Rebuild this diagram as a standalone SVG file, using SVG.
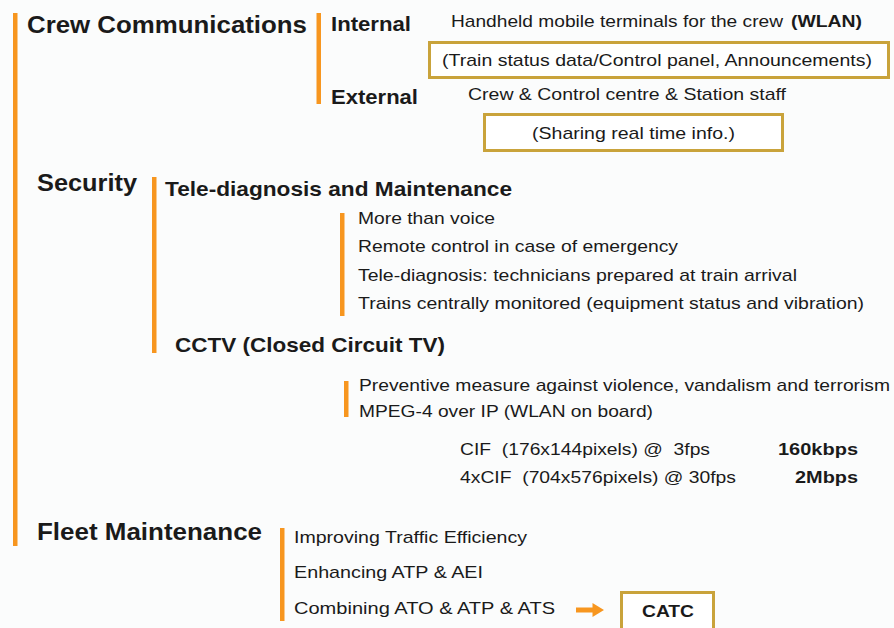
<svg xmlns="http://www.w3.org/2000/svg" width="894" height="628" viewBox="0 0 894 628">
  <style>
    text { font-family: "Liberation Sans", Arial, sans-serif; fill: #1a1a1a; }
    .h1 { font-size: 23px; font-weight: bold; }
    .h2 { font-size: 21px; font-weight: bold; }
    .t  { font-size: 17px; }
    .tb { font-size: 17px; font-weight: bold; }
    .bar { fill: #F7961F; }
    .box { fill: #ffffff; stroke: #C9A33B; stroke-width: 3; }
  </style>
  <rect width="894" height="628" fill="#FBFCFC"/>

  <!-- Crew Communications -->
  <g id="crew">
    <rect class="bar" x="13" y="13" width="4.5" height="533"/>
    <text class="h1" x="27" y="33" textLength="280" lengthAdjust="spacingAndGlyphs">Crew Communications</text>
  </g>
  <g id="crew-internal">
    <rect class="bar" x="316.5" y="13" width="4.5" height="91"/>
    <text class="h2" x="331" y="31" textLength="80" lengthAdjust="spacingAndGlyphs">Internal</text>
    <text class="t" x="451" y="27" textLength="332" lengthAdjust="spacingAndGlyphs">Handheld mobile terminals for the crew</text>
    <text class="tb" x="791" y="27" textLength="71" lengthAdjust="spacingAndGlyphs">(WLAN)</text>
  </g>
  <g id="internal-box">
    <rect class="box" x="429.5" y="42.5" width="459" height="35"/>
    <text class="t" x="442" y="66" textLength="430" lengthAdjust="spacingAndGlyphs">(Train status data/Control panel, Announcements)</text>
  </g>
  <g id="crew-external">
    <text class="h2" x="331" y="104" textLength="87" lengthAdjust="spacingAndGlyphs">External</text>
    <text class="t" x="468" y="100" textLength="318" lengthAdjust="spacingAndGlyphs">Crew &amp; Control centre &amp; Station staff</text>
  </g>
  <g id="external-box">
    <rect class="box" x="484.5" y="114.5" width="298" height="36"/>
    <text class="t" x="532" y="139" textLength="203" lengthAdjust="spacingAndGlyphs">(Sharing real time info.)</text>
  </g>

  <!-- Security -->
  <g id="security">
    <text class="h1" x="37" y="191" textLength="100" lengthAdjust="spacingAndGlyphs">Security</text>
    <rect class="bar" x="152" y="177" width="4.5" height="176"/>
  </g>
  <g id="tele-diagnosis">
    <text class="h2" x="165" y="196" textLength="347" lengthAdjust="spacingAndGlyphs">Tele-diagnosis and Maintenance</text>
    <rect class="bar" x="340" y="213" width="4.5" height="103"/>
    <text class="t" x="358" y="224" textLength="137" lengthAdjust="spacingAndGlyphs">More than voice</text>
    <text class="t" x="358" y="252" textLength="320" lengthAdjust="spacingAndGlyphs">Remote control in case of emergency</text>
    <text class="t" x="358" y="281" textLength="439" lengthAdjust="spacingAndGlyphs">Tele-diagnosis: technicians prepared at train arrival</text>
    <text class="t" x="358" y="309" textLength="506" lengthAdjust="spacingAndGlyphs">Trains centrally monitored (equipment status and vibration)</text>
  </g>
  <g id="cctv">
    <text class="h2" x="175" y="352" textLength="270" lengthAdjust="spacingAndGlyphs">CCTV (Closed Circuit TV)</text>
    <rect class="bar" x="344" y="381" width="4.5" height="36"/>
    <text class="t" x="359" y="391" textLength="531" lengthAdjust="spacingAndGlyphs">Preventive measure against violence, vandalism and terrorism</text>
    <text class="t" x="359" y="417" textLength="294" lengthAdjust="spacingAndGlyphs">MPEG-4 over IP (WLAN on board)</text>
    <text class="t" x="460" y="455" textLength="250" lengthAdjust="spacingAndGlyphs" xml:space="preserve">CIF  (176x144pixels) @  3fps</text>
    <text class="tb" x="778" y="455" textLength="80" lengthAdjust="spacingAndGlyphs">160kbps</text>
    <text class="t" x="460" y="483" textLength="276" lengthAdjust="spacingAndGlyphs" xml:space="preserve">4xCIF  (704x576pixels) @ 30fps</text>
    <text class="tb" x="795" y="483" textLength="63" lengthAdjust="spacingAndGlyphs">2Mbps</text>
  </g>

  <!-- Fleet Maintenance -->
  <g id="fleet">
    <text class="h1" x="37" y="540" textLength="225" lengthAdjust="spacingAndGlyphs">Fleet Maintenance</text>
    <rect class="bar" x="280" y="528" width="4.5" height="93"/>
    <text class="t" x="294" y="543" textLength="233" lengthAdjust="spacingAndGlyphs">Improving Traffic Efficiency</text>
    <text class="t" x="294" y="578" textLength="189" lengthAdjust="spacingAndGlyphs">Enhancing ATP &amp; AEI</text>
    <text class="t" x="294" y="614" textLength="261" lengthAdjust="spacingAndGlyphs">Combining ATO &amp; ATP &amp; ATS</text>
  </g>
  <g id="catc">
    <rect class="box" x="621.5" y="592.5" width="92" height="42"/>
    <text class="tb" x="642" y="617" font-size="18" textLength="52" lengthAdjust="spacingAndGlyphs">CATC</text>
  </g>

  <!-- connectors -->
  <g id="connectors">
    <path d="M576 607.5 H592.5 V603 L604 610 L592.5 617 V612.5 H576 Z" fill="#F7961F"/>
  </g>
</svg>
